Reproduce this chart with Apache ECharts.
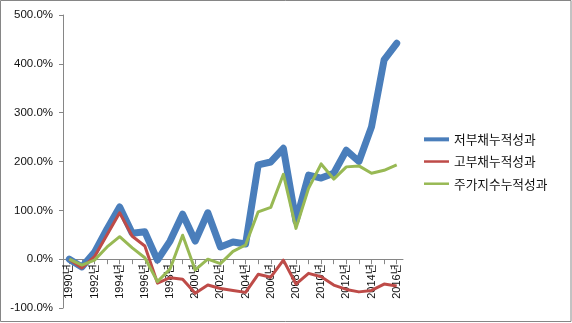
<!DOCTYPE html>
<html>
<head>
<meta charset="utf-8">
<script src="https://cdn.jsdelivr.net/npm/echarts@6/dist/echarts.min.js"></script>
<style>
  html, body { margin: 0; padding: 0; background: #fff; }
  #chart { width: 572px; height: 323px; }
</style>
</head>
<body>
<div id="chart"></div>
<script>
// Years on the category axis
const years = [1990, 1991, 1992, 1993, 1994, 1995, 1996, 1997, 1998, 1999,
               2000, 2001, 2002, 2003, 2004, 2005, 2006, 2007, 2008, 2009,
               2010, 2011, 2012, 2013, 2014, 2015, 2016];

// Cumulative performance (%)
const lowDebt = [0, -16, 14, 62, 107, 53, 56, -2, 37, 92,
                 37, 95, 25, 35, 31, 193, 199, 227, 78, 172,
                 166, 176, 223, 200, 271, 408, 442];
const highDebt = [0, -18, 5, 50, 95, 47, 27, -49, -38, -41,
                  -70, -53, -60, -64, -68, -31, -37, -2, -51, -29,
                  -36, -53, -62, -67, -64, -51, -55];
const stockIndex = [0, -12, -2, 25, 46, 23, 3, -46, -20, 49,
                    -22, 0, -9, 16, 29, 97, 106, 174, 63, 145,
                    195, 164, 189, 191, 176, 182, 193];

// Value axis ticks
const yTicks = [-100, 0, 100, 200, 300, 400, 500];

const seriesNames = ['저부채누적성과', '고부채누적성과', '주가지수누적성과'];
const seriesColors = ['#4A7EBB', '#BE4B48', '#98B954'];

const axisGray = '#868686';
const fontStack = '"Liberation Sans", Arial, "Noto Sans CJK KR", sans-serif';
const cjkFont = '"Noto Sans CJK KR", "Liberation Sans", sans-serif';

// Plot area
const gridTop = 15, gridBottom = 15, gridLeft = 63, gridRight = 169;
const plotHeight = 323 - gridTop - gridBottom;
const yMin = yTicks[0], yMax = yTicks[yTicks.length - 1];
// lift the category axis up to the 0% line
const zeroOffset = -plotHeight * (0 - yMin) / (yMax - yMin);

const chart = echarts.init(document.getElementById('chart'), null, { renderer: 'canvas' });

chart.setOption({
  animation: false,
  backgroundColor: '#fff',
  graphic: [{
    type: 'rect',
    shape: { x: 0.5, y: 0.5, width: 570.5, height: 321 },
    style: { fill: 'none', stroke: axisGray, lineWidth: 1 },
    silent: true
  }],
  grid: { left: gridLeft, right: gridRight, top: gridTop, bottom: gridBottom, containLabel: false, outerBoundsMode: 'none' },
  legend: {
    orient: 'vertical',
    left: 419,
    top: 128,
    itemWidth: 25,
    itemHeight: 14,
    itemGap: 9.5,
    textStyle: { fontFamily: cjkFont, fontSize: 12.7, color: '#111' },
    data: [
      { name: seriesNames[0], icon: 'path://M0,0 H25 V4 H0 Z', itemStyle: { color: seriesColors[0] } },
      { name: seriesNames[1], icon: 'path://M0,0 H25 V2.5 H0 Z', itemStyle: { color: seriesColors[1] } },
      { name: seriesNames[2], icon: 'path://M0,0 H25 V2.5 H0 Z', itemStyle: { color: seriesColors[2] } }
    ]
  },
  xAxis: {
    type: 'category',
    data: years,
    boundaryGap: true,
    position: 'bottom',
    offset: zeroOffset,
    axisLine: { onZero: false, lineStyle: { color: axisGray, width: 1 } },
    axisTick: { show: true, interval: 0, alignWithLabel: true, length: 5, lineStyle: { color: axisGray } },
    axisLabel: {
      interval: 1,
      rotate: 90,
      margin: 5,
      fontSize: 11,
      color: '#111',
      fontFamily: fontStack,
      formatter: v => v + '년'
    },
    splitLine: { show: false }
  },
  yAxis: {
    type: 'value',
    min: yMin,
    max: yMax,
    interval: 100,
    axisLine: { show: true, lineStyle: { color: axisGray, width: 1 } },
    axisTick: { show: true, length: 4, lineStyle: { color: axisGray } },
    axisLabel: {
      margin: 10,
      fontSize: 11.5,
      color: '#111',
      fontFamily: fontStack,
      formatter: v => v.toFixed(1) + '%'
    },
    splitLine: { show: false }
  },
  series: [
    {
      name: seriesNames[0], type: 'line', data: lowDebt, symbol: 'none',
      color: seriesColors[0],
      lineStyle: { width: 7, color: seriesColors[0], cap: 'round', join: 'round' }
    },
    {
      name: seriesNames[1], type: 'line', data: highDebt, symbol: 'none',
      color: seriesColors[1],
      lineStyle: { width: 3, color: seriesColors[1], join: 'round' }
    },
    {
      name: seriesNames[2], type: 'line', data: stockIndex, symbol: 'none',
      color: seriesColors[2],
      lineStyle: { width: 3, color: seriesColors[2], join: 'round' }
    }
  ]
});
</script>
</body>
</html>
